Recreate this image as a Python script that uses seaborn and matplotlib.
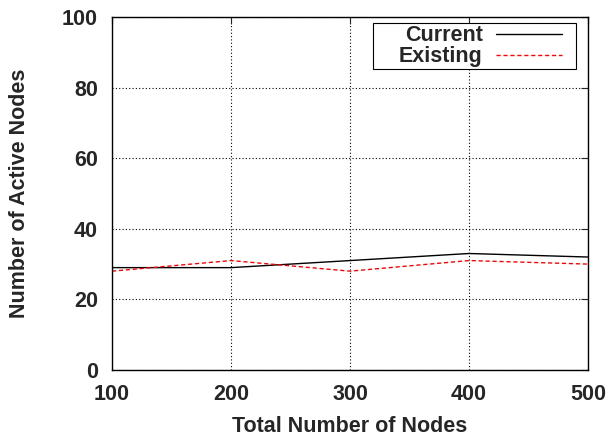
import matplotlib
matplotlib.use("Agg")
import matplotlib.pyplot as plt
from matplotlib.patches import Rectangle
import seaborn as sns
import pandas as pd

nodes = [100, 200, 300, 400, 500]
current = [29, 29, 31, 33, 32]
existing = [28, 31, 28, 31, 30]

sns.set_style("white")
plt.rcParams['font.family'] = ['Liberation Sans', 'DejaVu Sans']
plt.rcParams['font.weight'] = 'bold'
fs = 15.5

fig = plt.figure(figsize=(6.1, 4.41), dpi=100)
ax = fig.add_axes([0.1836, 0.161, 0.7804, 0.8005])

df = pd.DataFrame({"x": nodes * 2,
                   "y": current + existing,
                   "s": ["Current"] * 5 + ["Existing"] * 5})
sns.lineplot(data=df, x="x", y="y", hue="s", style="s",
             palette={"Current": "black", "Existing": "red"},
             dashes={"Current": "", "Existing": (3, 2)},
             linewidth=1.0, ax=ax)

ax.set_xlim(100, 500)
ax.set_ylim(0, 100)
ax.set_xticks(nodes)
ax.set_yticks([0, 20, 40, 60, 80, 100])
ax.grid(True, color="black", linestyle=(0, (1, 2)), linewidth=0.8)
ax.tick_params(direction="in", top=True, right=True, labelsize=fs, length=5, pad=10)
for lbl in ax.get_xticklabels() + ax.get_yticklabels():
    lbl.set_fontweight("bold")
for s in ax.spines.values():
    s.set_color("black")
    s.set_linewidth(1.0)
ax.set_xlabel("Total Number of Nodes", fontsize=fs, fontweight="bold", labelpad=8)
ax.set_ylabel("Number of Active Nodes", fontsize=fs, fontweight="bold", labelpad=23)

# legend: frameless content, custom box drawn around it
W, H = fig.get_size_inches() * fig.dpi
handles, labels = ax.get_legend_handles_labels()
leg = ax.legend(handles, labels, loc="upper right", markerfirst=False,
                prop={"size": fs, "weight": "bold"},
                frameon=False, borderpad=0.1, labelspacing=0.0,
                handlelength=3.07, handletextpad=0.6, borderaxespad=0,
                bbox_to_anchor=(564 / W, 1 - 23 / H), bbox_transform=fig.transFigure)
leg.set_zorder(10)
fig.canvas.draw()
bb = leg.get_window_extent()
x0 = 373 / W
x1 = 576 / W
y0 = bb.y0 / H
y1 = bb.y1 / H
box = Rectangle((x0, y0), x1 - x0, y1 - y0, transform=fig.transFigure,
                facecolor="white", edgecolor="black", linewidth=0.8,
                zorder=6, clip_on=False)
ax.add_patch(box)

fig.savefig("out.png", dpi=100)
